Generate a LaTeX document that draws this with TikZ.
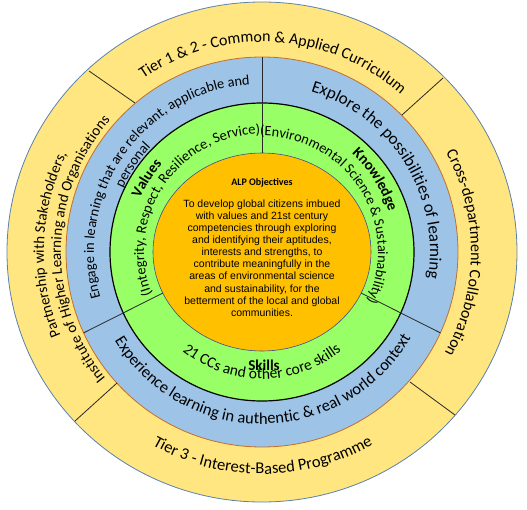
\documentclass[tikz,border=0pt]{standalone}
\usepackage{fontspec}
\setmainfont{Carlito}
\newfontfamily\arialf{Liberation Sans}
\usetikzlibrary{decorations.text}
\definecolor{ringY}{RGB}{255,230,128}
\definecolor{ringB}{RGB}{157,195,230}
\definecolor{ringG}{RGB}{153,255,102}
\definecolor{coreO}{RGB}{255,192,0}
\definecolor{edgeY}{RGB}{90,130,175}
\definecolor{edgeB}{RGB}{197,110,40}
\definecolor{edgeO}{RGB}{60,80,140}
\definecolor{divider}{RGB}{40,40,40}
\tikzset{
  divline/.style={draw=divider, line width=0.8pt},
}
% clockwise text (tops outward): #1 centre angle, #2 baseline radius, #3 format, #4 text
\newcommand{\cwtext}[4]{%
  \path[decorate,decoration={text along path,text align=center,
     text format delimiters={|}{|},
     text={|#3|#4}}]
     ({#1+80}:#2) arc[start angle={#1+80}, end angle={#1-80}, radius=#2];}
% counter-clockwise text (tops inward)
\newcommand{\ccwtext}[4]{%
  \path[decorate,decoration={text along path,text align=center,
     text format delimiters={|}{|},
     text={|#3|#4}}]
     ({#1-80}:#2) arc[start angle={#1-80}, end angle={#1+80}, radius=#2];}
\begin{document}
\begin{tikzpicture}[x=1pt,y=1pt]
\useasboundingbox (-262,-257) rectangle (265,252);
% rings
\filldraw[fill=ringY, draw=edgeY, line width=0.8pt] (0,0) ellipse [x radius=255, y radius=250];
\filldraw[fill=ringB, draw=edgeB, line width=0.8pt] (0,0) ellipse [x radius=196, y radius=195];
\filldraw[fill=ringG, draw=black, line width=1.2pt] (0,0) ellipse [x radius=152, y radius=149];
\filldraw[fill=coreO, draw=edgeO, line width=0.6pt] (0,0) ellipse [x radius=109, y radius=99];
% outer ring dividers
\coordinate (ul1) at (-127,149); \coordinate (ul2) at (-173,181);
\coordinate (ur1) at (140,137);  \coordinate (ur2) at (181,174);
\coordinate (lr1) at (148,-130); \coordinate (lr2) at (193,-163);
\coordinate (ll1) at (-145,-131);\coordinate (ll2) at (-187,-169);
\draw[divline] (ul1) -- (ul2);
\draw[divline] (ur1) -- (ur2);
\draw[divline] (lr1) -- (lr2);
\draw[divline] (ll1) -- (ll2);
% inner dividers
\coordinate (t1) at (90:109 and 99);     \coordinate (t2) at (90:196 and 195);
\coordinate (l1) at (204.5:109 and 99);  \coordinate (l2) at (204.5:196 and 195);
\coordinate (r1) at (-24.5:109 and 99);  \coordinate (r2) at (-24.5:196 and 195);
\draw[divline] (t1) -- (t2);
\draw[divline] (l1) -- (l2);
\draw[divline] (r1) -- (r2);
% outer ring texts
\cwtext{86.5}{210}{\fontsize{16}{16}\selectfont}{Tier 1 {\&} 2 - Common {\&} Applied Curriculum}
\cwtext{-0.3}{209}{\fontsize{16}{16}\selectfont}{Cross-department Collaboration}
\ccwtext{270.2}{222}{\fontsize{16.5}{16.5}\selectfont}{Tier 3 - Interest-Based Programme}
\cwtext{178}{218}{\fontsize{15}{15}\selectfont}{Partnership with Stakeholders,}
\cwtext{179}{201}{\fontsize{15}{15}\selectfont}{Institute of Higher Learning and Organisations}
% blue ring texts
\cwtext{145}{168}{\fontsize{14.3}{14.3}\selectfont}{Engage in learning that are relevant, applicable and}
\cwtext{146}{153}{\fontsize{14.3}{14.3}\selectfont}{personal}
\cwtext{32}{168}{\fontsize{17}{17}\selectfont}{Explore the possibilities of learning}
\ccwtext{270.5}{172}{\fontsize{16.5}{16.5}\selectfont}{Experience learning in authentic {\&} real world context}
% green ring texts
\cwtext{147.5}{133}{\bfseries\fontsize{15}{15}\selectfont}{Values}
\cwtext{146}{118}{\fontsize{14.5}{14.5}\selectfont}{(Integrity, Respect, Resilience, Service)}
\cwtext{32.5}{133}{\bfseries\fontsize{15}{15}\selectfont}{Knowledge}
\cwtext{33}{116}{\fontsize{14.3}{14.3}\selectfont}{(Environmental Science {\&} Sustainability)}
\ccwtext{270}{127}{\fontsize{15.5}{15.5}\selectfont}{21 CCs and other core skills}
\node (skills) [font=\bfseries\fontsize{15}{18}\selectfont, inner sep=0pt] at (2,-113) {Skills};
% core
\node (alp) [font=\bfseries\fontsize{10}{12}\selectfont, inner sep=0pt] at (0,69) {ALP Objectives};
\node (obj) [font=\arialf\fontsize{10.5}{12.1}\selectfont, align=center, inner sep=0pt] at (0,-6)
  {To develop global citizens imbued\\with values and 21st century\\competencies through exploring\\and identifying their aptitudes,\\interests and strengths, to\\contribute meaningfully in the\\areas of environmental science\\and sustainability, for the\\betterment of the local and global\\communities.};
\end{tikzpicture}
\end{document}
